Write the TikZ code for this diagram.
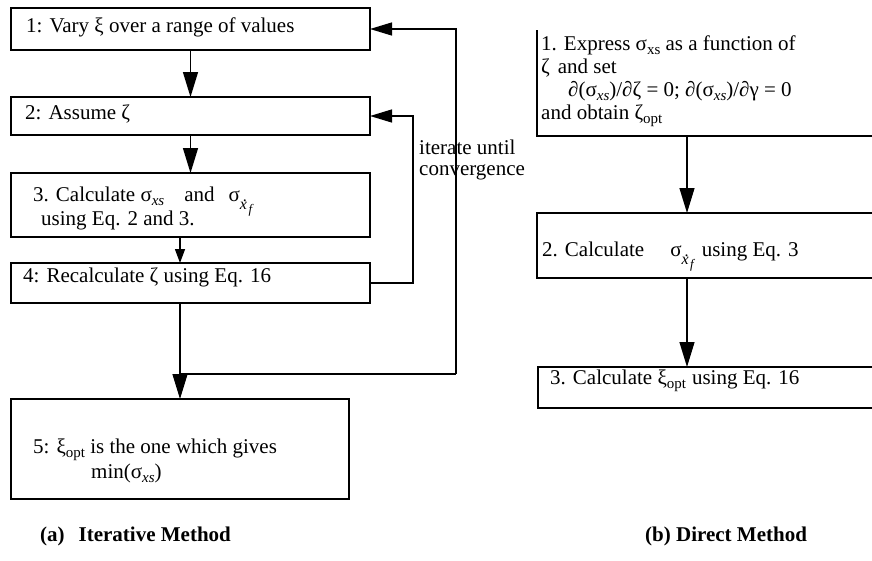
\documentclass[tikz,border=0pt]{standalone}
\usepackage{fontspec}
\setmainfont{Liberation Serif}
\usetikzlibrary{arrows.meta,fit}
\newcommand{\sbu}[1]{\raisebox{-4.5pt}{\fontsize{15}{15}\selectfont #1}}
\newcommand{\sbi}[1]{\raisebox{-4.5pt}{\fontsize{15}{15}\selectfont\itshape #1}}
\newcommand{\xdotf}{\raisebox{-8pt}{\fontsize{16}{16}\selectfont\itshape\rlap{\hspace{3pt}\raisebox{7.5pt}{\upshape .}}x\hspace{1.5pt}\raisebox{-4pt}{\fontsize{13}{13}\selectfont f}}}
\begin{document}
\begin{tikzpicture}[x=1pt,y=-1pt,
  box/.style={draw, line width=1.3pt, rectangle, inner sep=0pt, outer sep=0pt},
  openbox/.style={draw=none, rectangle, inner sep=0pt, outer sep=0pt},
  txt/.style={anchor=base west, inner sep=0pt, font=\fontsize{21}{25}\selectfont},
  captxt/.style={anchor=base west, inner sep=0pt, font=\fontsize{21}{25}\selectfont\bfseries},
  conn/.style={line width=1.3pt},
  arrD/.style={conn, -{Triangle[width=15pt,length=25pt]}},
  arrS/.style={conn, -{Triangle[width=10pt,length=14pt]}},
  arrL/.style={conn, -{Triangle[width=13pt,length=22pt]}}]
\useasboundingbox (0,0) rectangle (872,560);

% left: iterative method
\node[box, fit={(11,8) (370,50)}] (b1) {};
\node[box, fit={(11,97) (370,135)}] (b2) {};
\node[box, fit={(11,173) (370,237)}] (b3) {};
\node[box, fit={(11,263) (370,303)}] (b4) {};
\node[box, fit={(11,399) (349,499)}] (b5) {};

\node[txt] (t1) at (26,32) {1: Vary ξ over a range of values};
\node[txt] (t2) at (25,119) {2: Assume ζ};
\node[txt] (t3a) at (33,201) {3. Calculate σ\sbi{xs}\hspace{20pt}and\hspace{14pt}σ\xdotf};
\node[txt] (t3b) at (41,225) {using Eq. 2 and 3.};
\node[txt] (t4) at (23,282) {4: Recalculate ζ using Eq. 16};
\node[txt] (t5a) at (33,453) {5: ξ\sbu{opt} is the one which gives};
\node[txt] (t5b) at (91,478) {min(σ\sbi{xs})};
\node[txt, align=left, anchor=north west] (it) at (419,140) {iterate until\\[-4pt]convergence};

\coordinate (cx) at (180,0);
\coordinate (j) at (180,374);
\coordinate (outer) at (456,374);
\coordinate (inner) at (413,283);

\draw[arrD] (b1.south) -- (b2.north);
\draw[arrD] (b2.south) -- (b3.north);
\draw[arrS] (b3.south -| cx) -- (b4.north -| cx);
\draw[arrD] (b4.south -| cx) -- (b5.north -| cx);
\draw[conn] (j) -- (outer);
\draw[arrL] (outer) -- (outer |- b1.east) -- (b1.east);
\draw[arrL] (b4.east) -- (inner) -- (inner |- b2.east) -- (b2.east);

% right: direct method
\node[openbox, fit={(537,30) (880,136)}] (r1) {};
\draw[line width=1.3pt] (r1.north west) -- (r1.south west) -- (r1.south east);
\node[box, fit={(537,213) (880,278)}] (r2) {};
\node[box, fit={(538,367) (880,408)}] (r3) {};

\node[txt] (s1a) at (541,50) {1. Express σ\sbu{xs} as a function of};
\node[txt] (s1b) at (541,73) {ζ\hspace{8pt}and set};
\node[txt] (s1c) at (568,96) {∂(σ\sbi{xs})/∂ζ = 0; ∂(σ\sbi{xs})/∂γ = 0};
\node[txt] (s1d) at (541,119) {and obtain ζ\sbu{opt}};
\node[txt] (s2) at (542,256) {2. Calculate\hspace{26pt}σ\xdotf\hspace{8pt}using Eq. 3};
\node[txt] (s3) at (550,384) {3. Calculate ξ\sbu{opt}\hspace{6pt}using Eq. 16};

\coordinate (rx) at (687,0);
\draw[arrD] (r1.south -| rx) -- (r2.north -| rx);
\draw[arrD] (r2.south -| rx) -- (r3.north -| rx);

% captions
\node[captxt] (ca) at (40,541) {(a)\hspace{14pt}Iterative Method};
\node[captxt] (cb) at (645,541) {(b) Direct Method};
\end{tikzpicture}
\end{document}
